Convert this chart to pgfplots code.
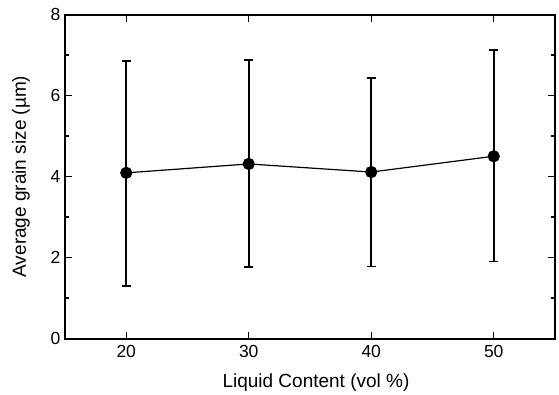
\documentclass[border=0pt]{standalone}
\usepackage{pgfplots}
\pgfplotsset{compat=1.18}
\usepackage{fontspec}
\setmainfont{Liberation Sans}
\begin{document}
\begin{tikzpicture}
\begin{axis}[
  scale only axis,
  width=490pt, height=324pt,
  xmin=15, xmax=55, ymin=0, ymax=8,
  xtick={20,30,40,50},
  ytick={0,2,4,6,8},
  minor ytick={1,3,5,7},
  tick align=inside,
  major tick length=7pt,
  minor tick length=4.5pt,
  axis line style={line width=2pt},
  every tick/.style={black, line width=1.4pt},
  tick label style={font=\fontsize{17.5}{21}\selectfont},
  xticklabel style={yshift=-3pt},
  yticklabel style={xshift=-1pt},
  label style={font=\fontsize{19}{22}\selectfont},
  /pgf/number format/assume math mode=true,
  xlabel={Liquid Content (vol \%)},
  ylabel={Average grain size (µm)},
  xlabel style={at={(axis description cs:0.5,0)}, anchor=center, yshift=-44pt, xshift=6pt},
  ylabel style={at={(axis description cs:0,0.5)}, anchor=center, yshift=44pt},
]
\addplot[black, line width=1.2pt, mark=*, mark size=5.5pt,
  error bars/.cd, y dir=both, y explicit,
  error bar style={line width=1.6pt},
  error mark options={rotate=90, mark size=4.5pt, line width=1.6pt}]
  table[x=x, y=y, y error plus=ep, y error minus=em] {
x y ep em
20 4.09 2.76 2.79
30 4.31 2.56 2.55
40 4.11 2.32 2.33
50 4.50 2.62 2.60
};
\end{axis}
\pgfresetboundingbox
\path (current axis.south west) ++(-65pt,-56pt) coordinate (bbA);
\path (current axis.north east) ++(4pt,14.5pt) coordinate (bbB);
\useasboundingbox (bbA) rectangle (bbB);
\end{tikzpicture}
\end{document}
